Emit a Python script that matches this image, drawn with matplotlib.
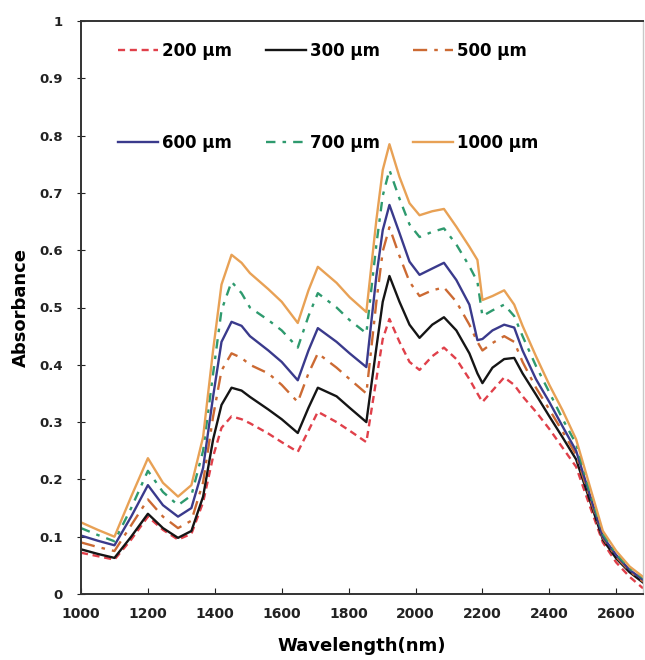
import matplotlib
matplotlib.use("Agg")
import matplotlib.pyplot as plt
from matplotlib.ticker import FuncFormatter

wavelength = [1000, 1050, 1100, 1150, 1200, 1245, 1290, 1330, 1365, 1395, 1420, 1450,
              1480, 1505, 1560, 1600, 1648, 1680, 1708, 1764, 1803, 1853, 1883, 1902,
              1922, 1952, 1982, 2012, 2050, 2085, 2122, 2161, 2185, 2200, 2230, 2265,
              2295, 2320, 2360, 2400, 2440, 2480, 2520, 2560, 2600, 2640, 2680]

a200 = [.072, .066, .060, .095, .135, .112, .095, .105, .160, .240, .290, .310,
        .305, .298, .280, .265, .248, .285, .318, .300, .285, .265, .375, .445,
        .480, .440, .405, .391, .415, .430, .410, .375, .350, .335, .355, .378,
        .365, .345, .318, .288, .255, .222, .155, .090, .055, .030, .010]
a300 = [.078, .070, .063, .100, .140, .115, .098, .110, .170, .270, .330, .360,
        .355, .344, .322, .305, .281, .325, .360, .345, .325, .300, .430, .510,
        .555, .510, .470, .447, .470, .483, .460, .420, .385, .368, .395, .410,
        .412, .385, .348, .310, .273, .235, .165, .095, .062, .038, .020]
a500 = [.090, .082, .075, .120, .165, .135, .115, .128, .195, .310, .390, .420,
        .412, .400, .385, .365, .335, .385, .420, .395, .375, .350, .510, .598,
        .640, .590, .545, .520, .530, .535, .510, .470, .440, .425, .438, .450,
        .440, .405, .360, .322, .283, .243, .170, .098, .065, .040, .022]
a600 = [.102, .093, .085, .135, .190, .155, .135, .150, .220, .345, .440, .475,
        .468, .450, .425, .405, .373, .425, .464, .440, .420, .396, .555, .635,
        .679, .630, .580, .557, .568, .578, .548, .505, .443, .445, .460, .470,
        .465, .425, .375, .335, .292, .250, .175, .100, .068, .042, .025]
a700 = [.115, .103, .092, .150, .215, .178, .155, .172, .250, .385, .495, .545,
        .525, .500, .478, .460, .430, .485, .525, .500, .478, .455, .610, .695,
        .740, .690, .645, .623, .632, .638, .610, .572, .545, .485, .495, .505,
        .485, .450, .398, .352, .305, .262, .180, .105, .070, .045, .028]
a1000 = [.125, .112, .100, .170, .237, .194, .170, .190, .274, .426, .540, .592,
         .578, .560, .532, .510, .473, .530, .571, .543, .518, .492, .653, .740,
         .785, .728, .682, .661, .668, .672, .641, .606, .583, .513, .520, .530,
         .505, .468, .415, .365, .320, .270, .190, .110, .075, .048, .030]

labels = ["200 µm", "300 µm", "500 µm", "600 µm", "700 µm", "1000 µm"]
x_ticks = [1000, 1200, 1400, 1600, 1800, 2000, 2200, 2400, 2600]
y_ticks = [0, 0.1, 0.2, 0.3, 0.4, 0.5, 0.6, 0.7, 0.8, 0.9, 1]

series = [a200, a300, a500, a600, a700, a1000]
styles = [
    dict(color="#e0404a", linestyle=(0, (3, 2))),
    dict(color="#151515", linestyle="-"),
    dict(color="#cc6a33", linestyle=(0, (6, 3, 1.5, 3))),
    dict(color="#3a3a8c", linestyle="-"),
    dict(color="#2e9a6e", linestyle=(0, (4, 3, 1.5, 3))),
    dict(color="#e8a155", linestyle="-"),
]

fig = plt.figure(figsize=(6.45, 6.6), dpi=100)
ax = fig.add_axes([81 / 645, 66 / 660, 562 / 645, 573 / 660])

handles = []
for vals, lab, st in zip(series, labels, styles):
    h, = ax.plot(wavelength, vals, label=lab, linewidth=1.7, **st)
    handles.append(h)

ax.set_xlim(1000, 2680)
ax.set_ylim(0, 1)
ax.set_xticks(x_ticks)
ax.set_yticks(y_ticks)
ax.yaxis.set_major_formatter(FuncFormatter(lambda v, p: "%g" % v))

for lbl in ax.get_xticklabels() + ax.get_yticklabels():
    lbl.set_fontweight("bold")
ax.tick_params(axis="x", direction="in", length=4, labelsize=10, pad=9, colors="#222222")
ax.tick_params(axis="y", direction="inout", length=6, labelsize=9.5, pad=10, colors="#222222")

for s in ["left", "bottom", "top"]:
    ax.spines[s].set_color("#333333")
    ax.spines[s].set_linewidth(1.4)
ax.spines["right"].set_color("#c8c8c8")
ax.spines["right"].set_linewidth(1.0)

ax.set_xlabel("Wavelength(nm)", fontsize=13, fontweight="bold", labelpad=12)
ax.set_ylabel("Absorbance", fontsize=13, fontweight="bold", labelpad=7)

# row-wise legend order: columns are (200,600), (300,700), (500,1000)
order = [0, 3, 1, 4, 2, 5]
leg = ax.legend([handles[i] for i in order], [labels[i] for i in order],
                ncol=3, loc="upper left", bbox_to_anchor=(0.066, 0.964),
                frameon=False, fontsize=12, handlelength=2.4, handletextpad=0.25,
                columnspacing=2.0, labelspacing=4.45, borderaxespad=0, borderpad=0)
for t in leg.get_texts():
    t.set_fontweight("bold")

fig.savefig("out.png", dpi=100, facecolor="white")
